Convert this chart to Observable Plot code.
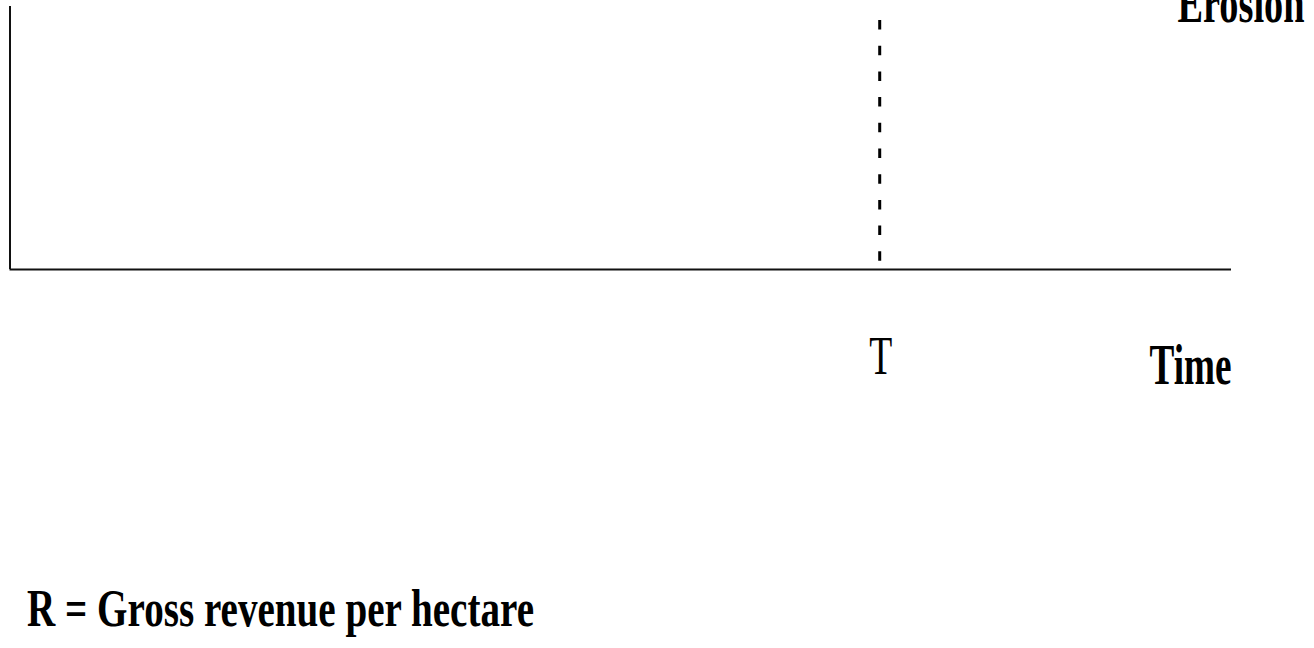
<!DOCTYPE html>
<html>
<head>
<meta charset="utf-8">
<script src="https://cdn.jsdelivr.net/npm/d3@7"></script>
<script src="https://cdn.jsdelivr.net/npm/@observablehq/plot@0.6"></script>
<style>
  html, body { margin: 0; padding: 0; background: #fff; }
  #chart svg { display: block; overflow: visible; }
</style>
</head>
<body>
<div id="chart"></div>
<script>
// ---- data ----
const timeDomain = [0, 10];
const valueDomain = [0, 1];
const thresholdTime = [7.12];          // position of "T" on the time axis
const thresholdLabel = ["T"];
const xAxisLabel = ["Time"];
const curveLabel = ["Erosion"];
const captionText = ["R = Gross revenue per hectare"];

const serif = "'Liberation Serif', 'Times New Roman', 'DejaVu Serif', serif";

const chart = Plot.plot({
  width: 1314,
  height: 648,
  marginLeft: 9.5,
  marginRight: 83,
  marginTop: 6,
  marginBottom: 379,
  x: { domain: timeDomain, axis: null },
  y: { domain: valueDomain, axis: null },
  style: { background: "#fff", color: "#000" },
  marks: [
    // axes
    Plot.ruleX([timeDomain[0]], { stroke: "#111", strokeWidth: 2 }),
    Plot.ruleY([valueDomain[0]], { stroke: "#111", strokeWidth: 2 }),
    // dashed threshold line at T
    Plot.ruleX(thresholdTime, {
      stroke: "#000", strokeWidth: 3, strokeDasharray: "9.5,16.2",
      insetTop: 14, insetBottom: 7
    }),
    // T label under the axis
    Plot.text(thresholdLabel, {
      x: thresholdTime, y: [valueDomain[0]], text: d => d,
      textAnchor: "middle", lineAnchor: "bottom", dy: 104, dx: 1,
      fontFamily: serif, fontSize: 54, fill: "#000"
    }),
    // Time axis label
    Plot.text(xAxisLabel, {
      x: [timeDomain[1]], y: [valueDomain[0]], text: d => d,
      textAnchor: "end", lineAnchor: "bottom", dy: 114, dx: 0,
      fontFamily: serif, fontSize: 58, fontWeight: "bold", fill: "#000"
    }),
    // Erosion curve label (cut at top)
    Plot.text(curveLabel, {
      x: [timeDomain[1]], y: [valueDomain[1]], text: d => d,
      textAnchor: "start", lineAnchor: "bottom", dy: 15, dx: -54,
      fontFamily: serif, fontSize: 56, fontWeight: "bold", fill: "#000"
    }),
    // caption
    Plot.text(captionText, {
      x: [timeDomain[0]], y: [valueDomain[0]], text: d => d,
      textAnchor: "start", lineAnchor: "bottom", dy: 356, dx: 17,
      fontFamily: serif, fontSize: 53, fontWeight: "bold", fill: "#000"
    })
  ]
});

// condense the glyphs like the original narrow serif face
const targetLengths = {
  "T": 23,
  "Time": 82,
  "Erosion": 127,
  "R = Gross revenue per hectare": 507
};
d3.select(chart).selectAll("text").each(function () {
  const t = this.textContent;
  if (targetLengths[t] != null) {
    d3.select(this)
      .attr("textLength", targetLengths[t])
      .attr("lengthAdjust", "spacingAndGlyphs");
  }
});

document.getElementById("chart").appendChild(chart);
</script>
</body>
</html>
